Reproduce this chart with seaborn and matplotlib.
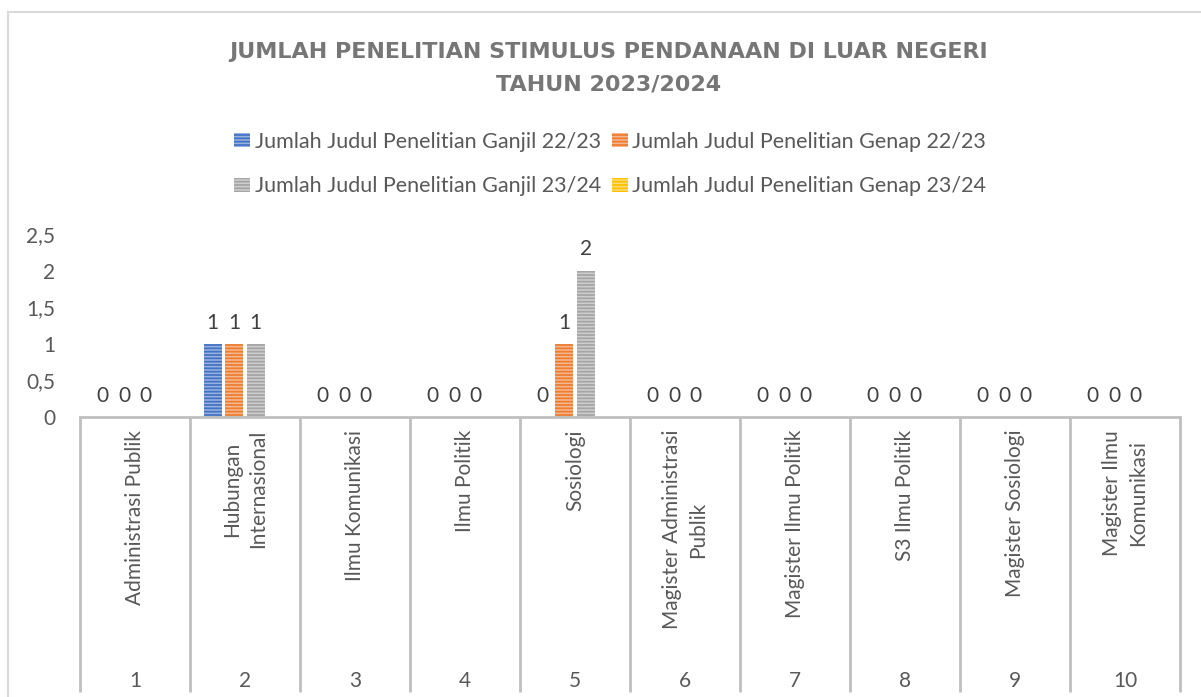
import numpy as np
import pandas as pd
import matplotlib
matplotlib.use('Agg')
import matplotlib.pyplot as plt
from matplotlib.patches import Patch, Rectangle
from matplotlib.colors import to_rgb
import seaborn as sns

# --- data ---
categories = [
    'Administrasi Publik', 'Hubungan\nInternasional', 'Ilmu Komunikasi', 'Ilmu Politik',
    'Sosiologi', 'Magister Administrasi\nPublik', 'Magister Ilmu Politik',
    'S3 Ilmu Politik', 'Magister Sosiologi', 'Magister Ilmu\nKomunikasi',
]
category_numbers = ['1', '2', '3', '4', '5', '6', '7', '8', '9', '10']
series_names = [
    'Jumlah Judul Penelitian Ganjil 22/23',
    'Jumlah Judul Penelitian Genap 22/23',
    'Jumlah Judul Penelitian Ganjil 23/24',
    'Jumlah Judul Penelitian Genap 23/24',
]
ganjil_2223 = [0, 1, 0, 0, 0, 0, 0, 0, 0, 0]
genap_2223 = [0, 1, 0, 0, 1, 0, 0, 0, 0, 0]
ganjil_2324 = [0, 1, 0, 0, 2, 0, 0, 0, 0, 0]
genap_2324 = [np.nan] * 10  # kosong di sumber
series_colors = ['#4472C4', '#ED7D31', '#A5A5A5', '#FFC000']
y_ticks = [0, 0.5, 1, 1.5, 2, 2.5]
y_tick_labels = ['0', '0,5', '1', '1,5', '2', '2,5']
title = 'JUMLAH PENELITIAN STIMULUS PENDANAAN DI LUAR NEGERI\nTAHUN 2023/2024'

TEXT = '#595959'
LINE = '#BFBFBF'
FS = 15

df = pd.DataFrame({
    'no': category_numbers * 4,
    'seri': np.repeat(series_names, len(category_numbers)),
    'jumlah': ganjil_2223 + genap_2223 + ganjil_2324 + genap_2324,
})


def lighten(c, amount=0.45):
    r, g, b = to_rgb(c)
    return (r + (1 - r) * amount, g + (1 - g) * amount, b + (1 - b) * amount)


sns.set_style('white')
plt.rcParams['font.family'] = ['Lato', 'DejaVu Sans']
plt.rcParams['hatch.linewidth'] = 1.3

fig = plt.figure(figsize=(12.01, 6.97), dpi=100)
ax = fig.add_axes([80 / 1201, 1 - 417 / 697, 1100 / 1201, 183 / 697])

sns.barplot(data=df, x='no', y='jumlah', hue='seri', order=category_numbers,
            hue_order=series_names, palette=series_colors, width=0.78, gap=0.14,
            errorbar=None, legend=False, ax=ax)

# striped fill like the original
for name, color, cont in zip(series_names, series_colors, ax.containers):
    for bar in cont:
        bar.set_facecolor(lighten(color))
        bar.set_edgecolor(color)
        bar.set_linewidth(0)
        bar.set_hatch('-----')
    if not np.all(np.isnan(df.loc[df['seri'] == name, 'jumlah'])):
        ax.bar_label(cont, fmt='%g', padding=8, fontsize=FS, color='#404040')

ax.set_xlim(-0.5, len(categories) - 0.5)
ax.set_ylim(0, 2.5)
ax.set_yticks(y_ticks)
ax.set_yticklabels(y_tick_labels)
ax.tick_params(axis='y', length=0, pad=18, labelsize=FS, labelcolor=TEXT)
ax.set_xticks([])
ax.set_xlabel('')
ax.set_ylabel('')
for side in ['top', 'right', 'left']:
    ax.spines[side].set_visible(False)
ax.spines['bottom'].set_color(LINE)
ax.spines['bottom'].set_linewidth(2)

# multi-level category axis
xt = ax.get_xaxis_transform()
ax.vlines(np.arange(len(categories) + 1) - 0.5, 0, -1.5, transform=xt,
          colors=LINE, linewidth=2, clip_on=False)
for i, (cat, num) in enumerate(zip(categories, category_numbers)):
    ax.text(i, -0.07, cat, rotation=90, ha='center', va='top', multialignment='center',
            transform=xt, fontsize=FS, color=TEXT, clip_on=False, linespacing=1.35)
    ax.text(i, -1.44, num, ha='center', va='center', transform=xt,
            fontsize=FS, color=TEXT, clip_on=False)

fig.text(0.507, 1 - 68 / 697, title, ha='center', va='center', fontsize=16,
         fontweight='bold', color='#767676', linespacing=1.75, family='DejaVu Sans')

handles = [Patch(facecolor=lighten(c), edgecolor=c, linewidth=0, hatch='-----')
           for c in series_colors]
order = [0, 2, 1, 3]
fig.legend([handles[i] for i in order], [series_names[i] for i in order], ncol=2,
           loc='center', bbox_to_anchor=(0.508, 1 - 164 / 697), frameon=False,
           fontsize=15.5, labelcolor=TEXT, handlelength=0.75, handleheight=0.65,
           handletextpad=0.2, columnspacing=0.5, labelspacing=1.15)

fig.patches.append(Rectangle((8 / 1201, -0.1), 1.2, 1 - 12 / 697 + 0.1,
                             transform=fig.transFigure, fill=False,
                             edgecolor='#D9D9D9', linewidth=1.5))

fig.savefig('out.png', dpi=100)
